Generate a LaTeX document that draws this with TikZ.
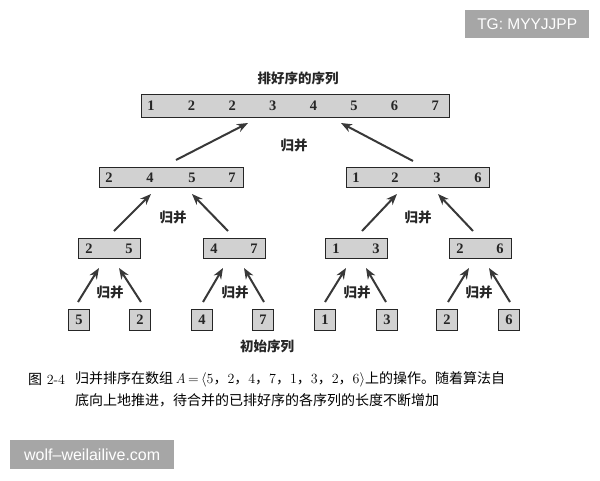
\documentclass[tikz,border=0pt]{standalone}
\usepackage{fontspec}
\newfontfamily\cjk{Noto Sans CJK SC}
\newfontfamily\wmfont{Liberation Sans}
\newfontfamily\digfont{Liberation Serif}
\usetikzlibrary{arrows.meta}
\newcommand\zcm{{\cjk ，}}
\begin{document}
\begin{tikzpicture}[x=1pt,y=-1pt,
  bar/.style={draw=black!85, line width=0.9pt, fill=black!18, inner sep=0pt},
  num/.style={font=\digfont\bfseries\fontsize{14.5}{14.5}\selectfont, text=black!85, inner sep=0pt},
  lbl/.style={font=\cjk\bfseries\fontsize{13.5}{13.5}\selectfont, text=black!85, inner sep=0pt},
  captext/.style={font=\fontsize{14}{14}\selectfont, inner sep=0pt, anchor=west},
  arr/.style={line width=2pt, draw=black!78, -{Stealth[length=11pt,width=8.5pt,inset=3.5pt]}},
  wm/.style={fill=black!35, text=white, font=\wmfont\fontsize{16}{16}\selectfont, inner sep=0pt, anchor=north west}
]
\useasboundingbox (0,0) rectangle (600,480);
% top level
\node[lbl] (toplbl) at (298,78) {排好序的序列};
\node[bar, anchor=north west, minimum width=308, minimum height=23] (top) at (141,94) {};
\foreach \v [count=\i] in {1,2,2,3,4,5,6,7}
  \node[num] (t\i) at ({151+40.6*(\i-1)},106) {\v};
% level 2
\node[bar, anchor=north west, minimum width=144, minimum height=20] (L) at (99,167) {};
\node[bar, anchor=north west, minimum width=143, minimum height=20] (R) at (346,167) {};
\foreach \v/\x [count=\i] in {2/109,4/150,5/192,7/232}
  \node[num] (l\i) at (\x,178) {\v};
\foreach \v/\x [count=\i] in {1/356,2/395,3/437,6/478}
  \node[num] (r\i) at (\x,178) {\v};
% level 3
\foreach \a/\b/\x [count=\i] in {2/5/78,4/7/203,1/3/325,2/6/449}{
  \node[bar, anchor=north west, minimum width=62, minimum height=20] (m\i) at (\x,238) {};
  \node[num] (ma\i) at (\x+11,248.5) {\a};
  \node[num] (mb\i) at (\x+51,248.5) {\b};
}
% level 4
\foreach \v/\x [count=\i] in {5/79,2/140,4/202,7/263,1/325,3/387,2/447,6/509}
  \node[bar, num, draw=black!85, fill=black!18, line width=0.9pt, minimum width=21, minimum height=21] (s\i) at (\x,319.5) {\v};
% labels
\node[lbl] (g0) at (294,145) {归并};
\node[lbl] (g1) at (173,217) {归并};
\node[lbl] (g2) at (418,217) {归并};
\foreach \x [count=\i] in {110,235,357,479}
  \node[lbl] (h\i) at (\x,292) {归并};
\node[lbl] (initlbl) at (267,346) {初始序列};
% arrow endpoints
\coordinate (a1) at (176,160); \coordinate (b1) at (248,123);
\coordinate (a2) at (413,161); \coordinate (b2) at (341,123);
\foreach \p/\q/\r/\s [count=\i] in {114/231/151/194, 228/231/192/194, 362/231/397/194, 473/231/438/194}{
  \coordinate (c\i) at (\p,\q); \coordinate (d\i) at (\r,\s);
}
\foreach \p/\r [count=\i] in {78/99,141/119,203/223,264/244,325/346,386/366,448/469,510/489}{
  \coordinate (e\i) at (\p,302); \coordinate (f\i) at (\r,268);
}
\draw[arr] (a1) -- (b1);
\draw[arr] (a2) -- (b2);
\foreach \i in {1,...,4} \draw[arr] (c\i) -- (d\i);
\foreach \i in {1,...,8} \draw[arr] (e\i) -- (f\i);
% caption
\node[captext] (fig) at (28,379) {{\cjk 图} 2-4};
\node[captext] (cap1) at (75,379) {{\cjk 归并排序在数组}\,\textit{A}\,=\,$\langle$5\zcm2\zcm4\zcm7\zcm1\zcm3\zcm2\zcm6$\rangle${\cjk 上的操作。随着算法自}};
\node[captext] (cap2) at (75,400) {{\cjk 底向上地推进，待合并的已排好序的各序列的长度不断增加}};
% watermarks
\node[wm, minimum width=164, minimum height=29] (wm1) at (10,440) {wolf–weilailive.com};
\node[wm, minimum width=124, minimum height=28, font=\wmfont\fontsize{15.5}{15.5}\selectfont] (tg) at (465,10) {TG: MYYJJPP};
\end{tikzpicture}
\end{document}
